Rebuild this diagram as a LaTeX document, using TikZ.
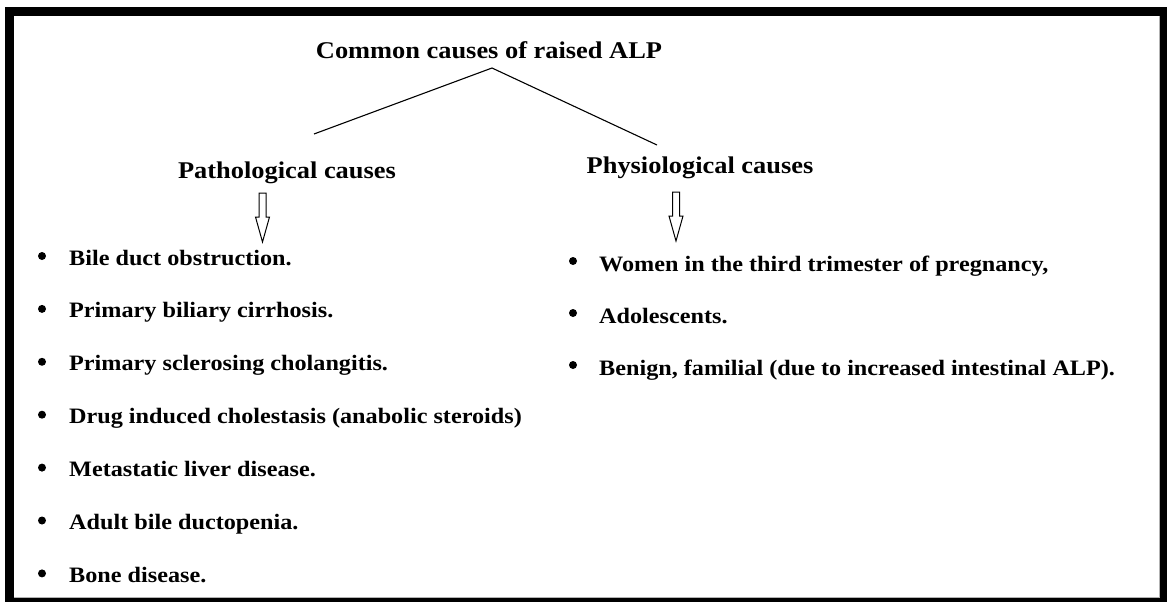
\documentclass[tikz,border=0pt]{standalone}
\usepackage{fontspec}
\setmainfont[FakeStretch=1.1]{Liberation Serif}

\begin{document}
\begin{tikzpicture}[x=1pt,y=-1pt,
    head/.style={anchor=base,inner sep=0,font=\fontsize{24}{28}\selectfont\bfseries},
    item/.style={anchor=base west,inner sep=0,font=\fontsize{22}{26}\selectfont\bfseries},
    dot/.style={circle,fill,inner sep=0,minimum size=8}]
    \useasboundingbox (0,0) rectangle (1167,602);
    % frame
    \fill (5,7) rectangle (1167,602);
    \fill[white] (14,16) rectangle (1160,597);
    \draw[gray!60,line width=0.8] (1159,16) -- (1159,597) -- (14,597);

    \node[head] (title) at (489,59) {Common causes of raised ALP};
    \node[head] (patho) at (287,178) {Pathological causes};
    \node[head] (physio) at (700,173) {Physiological causes};

    \coordinate (apex) at (492,68);
    \coordinate (lend) at (314,134);
    \coordinate (rend) at (657,145);
    \draw[line width=1.1] (lend) -- (apex) -- (rend);

    % open arrows
    \coordinate (parr) at (262.5,193);
    \coordinate (sarr) at (676,192);
    \foreach \a in {parr,sarr}
        \draw[line width=1] (\a) ++(-3.5,0) -- ++(7,0) -- ++(0,24) -- ++(3.5,0) -- ++(-7,25) -- ++(-7,-25) -- ++(3.5,0) -- cycle;

    \foreach \t [count=\i] in {{Bile duct obstruction.},{Primary biliary cirrhosis.},{Primary sclerosing cholangitis.},{Drug induced cholestasis (anabolic steroids)},{Metastatic liver disease.},{Adult bile ductopenia.},{Bone disease.}}{
        \node[item] (p\i) at (69,{265+52.9*(\i-1)}) {\t};
        \node[dot] (pb\i) at ([xshift=-27pt,yshift=9pt]p\i.base west) {};
    }
    \foreach \t [count=\i] in {{Women in the third trimester of pregnancy,},{Adolescents.},{Benign, familial (due to increased intestinal ALP).}}{
        \node[item] (s\i) at (599,{271+52*(\i-1)}) {\t};
        \node[dot] (sb\i) at ([xshift=-26pt,yshift=10pt]s\i.base west) {};
    }
\end{tikzpicture}
\end{document}
